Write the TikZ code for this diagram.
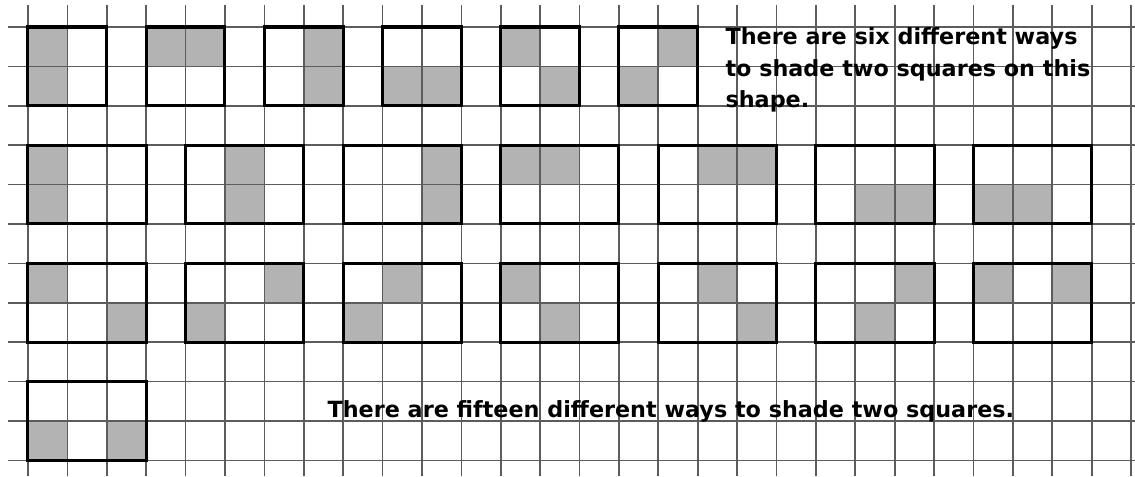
\documentclass[tikz,border=0pt]{standalone}
\usepackage{fontspec}
\setmainfont{DejaVu Sans}
\usetikzlibrary{positioning}
\definecolor{paperGrey}{HTML}{5c5c5c}
\definecolor{shadeGrey}{HTML}{b3b3b3}

\begin{document}
\begin{tikzpicture}[
          gridline/.style={draw=paperGrey, line width=1.2pt},
          shaded/.style={fill=shadeGrey},
          outline/.style={draw=black, line width=2.2pt},
          note/.style={font=\bfseries\fontsize{16.1}{22.5}\selectfont,
                       align=left, inner sep=0pt}
        ]
        \useasboundingbox (-0.71,-0.41) rectangle (28.1,11.685);
        % shaded cells (lower left corners)
        \foreach \x/\y in {0/10,0/9, 3/10,4/10, 7/10,7/9, 9/9,10/9, 12/10,13/9, 16/10,15/9,
                           0/7,0/6, 5/7,5/6, 10/7,10/6, 12/7,13/7, 17/7,18/7, 21/6,22/6, 24/6,25/6,
                           0/4,2/3, 6/4,4/3, 9/4,8/3, 12/4,13/3, 17/4,18/3, 22/4,21/3, 24/4,26/4,
                           0/0,2/0}
          \fill[shaded] (\x,\y) rectangle ++(1,1);
        % squared paper
        \foreach \i in {0,...,28} \draw[gridline] (\i,-0.41) -- (\i,11.55);
        \foreach \j in {0,...,11} \draw[gridline] (-0.5,\j) -- (28.1,\j);
        % the shapes
        \foreach \o in {0,3,...,15} \draw[outline] (\o,9) rectangle ++(2,2);
        \foreach \o in {0,4,...,24} \draw[outline] (\o,6) rectangle ++(3,2);
        \foreach \o in {0,4,...,24} \draw[outline] (\o,3) rectangle ++(3,2);
        \draw[outline] (0,0) rectangle ++(3,2);
        \node[note, anchor=north west] (six) at (17.7,10.98)
          {There are six different ways\\to shade two squares on this\\shape.};
        \node[note, anchor=base west] (fifteen) at (7.6,1.09)
          {There are fifteen different ways to shade two squares.};
      \end{tikzpicture}
\end{document}
